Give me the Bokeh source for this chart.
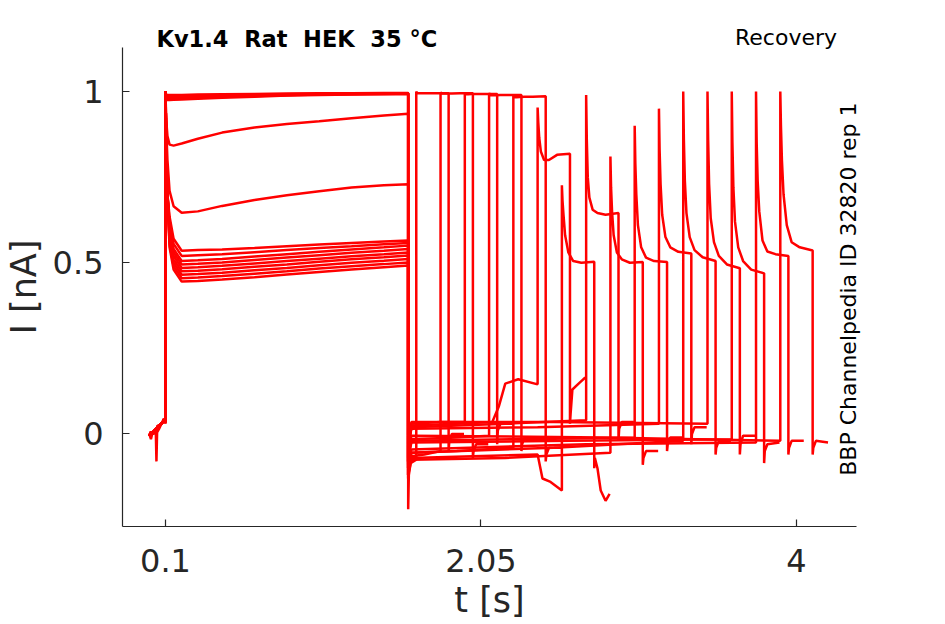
import math
from bokeh.plotting import figure
from bokeh.models import Range1d, FixedTicker, Label, ColumnDataSource
from bokeh.embed import file_html
from bokeh.resources import INLINE

# ---------------- data ----------------
# pre-pulse baseline (t in s, I in nA)
PRE_T = [0.0, 0.01, 0.02, 0.03, 0.04, 0.044, 0.048, 0.06, 0.075, 0.09, 0.1]
PRE_I_SPIKE = [0.0, -0.015, 0.005, 0.0, 0.01, -0.08, 0.005, 0.015, 0.03, 0.045, 0.03]
PRE_I_FLAT = [-0.005, 0.005, 0.0, 0.01, 0.015, 0.01, 0.02, 0.025, 0.03, 0.04, 0.035]

# first pulse (0.1 - 1.6 s)
P1_T = [0.1, 0.104, 0.112, 0.125, 0.15, 0.2, 0.3, 0.45, 0.65, 0.85, 1.05, 1.25, 1.45, 1.6]
P1_I = [
    [1.0, 0.99, 0.99, 0.99, 0.99, 0.99, 0.991, 0.992, 0.993, 0.994, 0.995, 0.995, 0.996, 0.996],
    [1.0, 0.985, 0.982, 0.982, 0.982, 0.983, 0.984, 0.986, 0.988, 0.99, 0.992, 0.993, 0.994, 0.995],
    [1.0, 0.98, 0.977, 0.977, 0.978, 0.979, 0.981, 0.984, 0.987, 0.989, 0.991, 0.992, 0.993, 0.994],
    [1.0, 0.988, 0.986, 0.986, 0.986, 0.987, 0.988, 0.99, 0.991, 0.992, 0.993, 0.994, 0.995, 0.995],
    [1.0, 0.978, 0.975, 0.975, 0.976, 0.977, 0.979, 0.982, 0.985, 0.988, 0.99, 0.991, 0.992, 0.993],
    [1.0, 0.92, 0.87, 0.845, 0.842, 0.848, 0.862, 0.88, 0.895, 0.905, 0.913, 0.922, 0.93, 0.935],
    [1.0, 0.86, 0.70, 0.585, 0.52, 0.485, 0.487, 0.491, 0.498, 0.505, 0.512, 0.519, 0.525, 0.53],
    [1.0, 0.90, 0.80, 0.71, 0.665, 0.646, 0.65, 0.666, 0.683, 0.697, 0.709, 0.72, 0.726, 0.729],
    [1.0, 0.86, 0.70, 0.575, 0.51, 0.475, 0.477, 0.481, 0.488, 0.495, 0.503, 0.51, 0.516, 0.521],
    [1.0, 0.86, 0.70, 0.565, 0.50, 0.465, 0.467, 0.471, 0.478, 0.485, 0.493, 0.50, 0.506, 0.511],
    [1.0, 0.86, 0.70, 0.62, 0.555, 0.52, 0.522, 0.525, 0.531, 0.537, 0.543, 0.548, 0.554, 0.558],
    [1.0, 0.86, 0.70, 0.595, 0.53, 0.495, 0.497, 0.501, 0.508, 0.515, 0.522, 0.529, 0.535, 0.54],
    [1.0, 0.86, 0.70, 0.555, 0.49, 0.455, 0.457, 0.461, 0.468, 0.475, 0.483, 0.49, 0.496, 0.501],
    [1.0, 0.86, 0.70, 0.545, 0.48, 0.445, 0.447, 0.451, 0.458, 0.466, 0.473, 0.48, 0.487, 0.492],
    [1.0, 0.86, 0.70, 0.605, 0.54, 0.505, 0.507, 0.511, 0.518, 0.525, 0.532, 0.539, 0.545, 0.55],
    [1.0, 0.86, 0.70, 0.635, 0.570, 0.535, 0.537, 0.539, 0.543, 0.548, 0.553, 0.558, 0.562, 0.565],
]
P1_OFF = 1.6
OFF1_SPIKE = [-0.22, -0.12, -0.08, -0.1, -0.13, -0.08, -0.12, -0.08, -0.13, -0.1, -0.08,
              -0.12, -0.07, -0.1, -0.12, -0.09]

# baseline between the two pulses
GAP_T = [
    [1.604, 1.615, 1.65],
    [1.604, 1.62, 1.7, 1.8],
    [1.604, 1.62, 1.8, 1.95],
    [1.604, 1.62, 1.9, 2.1],
    [1.604, 1.62, 1.9, 2.25],
    [1.604, 1.62, 1.9, 2.12, 2.16, 2.2, 2.28, 2.4],
    [1.604, 1.62, 2.0, 2.40, 2.43, 2.48, 2.55],
    [1.604, 1.62, 2.2, 2.70],
    [1.604, 1.62, 2.2, 2.85],
    [1.604, 1.62, 2.3, 3.0],
    [1.604, 1.62, 2.4, 3.15],
    [1.604, 1.62, 2.5, 3.3],
    [1.604, 1.62, 2.5, 3.45],
    [1.604, 1.62, 2.6, 3.6],
    [1.604, 1.62, 2.7, 3.75],
    [1.604, 1.62, 2.8, 3.9],
]
GAP_I = [
    [-0.12, -0.085, -0.075],
    [-0.1, -0.065, -0.06, -0.05],
    [-0.02, 0.03, 0.035, 0.035],
    [-0.05, -0.015, -0.01, -0.005],
    [-0.09, -0.055, -0.05, -0.04],
    [-0.03, 0.025, 0.03, 0.035, 0.08, 0.147, 0.16, 0.145],
    [-0.1, -0.07, -0.065, -0.06, -0.13, -0.14, -0.165],
    [-0.03, 0.02, 0.03, 0.04],
    [-0.11, -0.075, -0.07, -0.055],
    [-0.06, -0.02, -0.015, -0.01],
    [-0.02, 0.015, 0.02, 0.03],
    [-0.09, -0.055, -0.04, -0.02],
    [-0.01, 0.035, 0.035, 0.03],
    [-0.06, -0.025, -0.02, -0.015],
    [-0.08, -0.045, -0.03, -0.025],
    [-0.04, -0.005, -0.01, -0.02],
]

# second pulse
P2_ON = [1.65, 1.80, 1.95, 2.10, 2.25, 2.40, 2.55, 2.70, 2.85, 3.00, 3.15, 3.30, 3.45, 3.60, 3.75, 3.90]
P2_OFF = [1.85, 2.00, 2.15, 2.30, 2.45, 2.60, 2.75, 2.90, 3.05, 3.20, 3.35, 3.50, 3.65, 3.80, 3.95, 4.10]
P2_DT = [0.0, 0.004, 0.01, 0.02, 0.04, 0.07, 0.12, 0.2]
P2_I = [
    [1.0, 0.996, 0.995, 0.995, 0.995, 0.995, 0.995, 0.995],
    [0.998, 0.995, 0.994, 0.994, 0.994, 0.994, 0.995, 0.995],
    [0.997, 0.993, 0.992, 0.992, 0.993, 0.993, 0.993, 0.993],
    [0.996, 0.99, 0.989, 0.989, 0.989, 0.99, 0.99, 0.99],
    [0.99, 0.985, 0.983, 0.983, 0.984, 0.985, 0.985, 0.986],
    [0.953, 0.91, 0.865, 0.825, 0.80, 0.80, 0.815, 0.818],
    [0.726, 0.68, 0.64, 0.58, 0.53, 0.505, 0.50, 0.503],
    [0.99, 0.86, 0.75, 0.69, 0.655, 0.645, 0.64, 0.645],
    [0.81, 0.72, 0.65, 0.58, 0.53, 0.51, 0.50, 0.502],
    [0.90, 0.79, 0.70, 0.61, 0.545, 0.515, 0.505, 0.502],
    [0.95, 0.83, 0.73, 0.64, 0.575, 0.545, 0.532, 0.527],
    [1.0, 0.86, 0.74, 0.645, 0.575, 0.537, 0.516, 0.505],
    [1.0, 0.86, 0.73, 0.63, 0.56, 0.52, 0.495, 0.484],
    [1.0, 0.85, 0.72, 0.62, 0.545, 0.505, 0.48, 0.469],
    [1.0, 0.85, 0.74, 0.65, 0.565, 0.533, 0.525, 0.52],
    [1.0, 0.90, 0.80, 0.70, 0.61, 0.56, 0.545, 0.536],
]
OFF2_SPIKE = [-0.05, -0.07, -0.03, -0.05, -0.08, 0.03, -0.1, -0.02, -0.09, -0.05, -0.03,
              -0.06, -0.06, -0.085, -0.06, -0.06]

# baseline after the second pulse
TAIL_T = [
    [1.854, 1.87, 1.945],
    [2.004, 2.02, 2.095],
    [2.154, 2.17, 2.245],
    [2.304, 2.32, 2.395],
    [2.454, 2.47, 2.545],
    [2.604, 2.615, 2.66, 2.695],
    [2.754, 2.77, 2.79, 2.82, 2.845],
    [2.904, 2.92, 2.995],
    [3.054, 3.07, 3.145],
    [3.204, 3.22, 3.295],
    [3.354, 3.37, 3.445],
    [3.504, 3.52, 3.595],
    [3.654, 3.67, 3.745],
    [3.804, 3.82, 3.895],
    [3.954, 3.97, 4.045],
    [4.104, 4.12, 4.195],
]
TAIL_I = [
    [-0.02, 0.0, 0.0],
    [-0.05, -0.03, -0.03],
    [0.01, 0.03, 0.03],
    [-0.03, -0.01, -0.01],
    [-0.06, -0.04, -0.04],
    [0.06, 0.13, 0.15, 0.165],
    [-0.07, -0.1, -0.165, -0.195, -0.175],
    [0.015, 0.035, 0.035],
    [-0.07, -0.05, -0.05],
    [-0.03, -0.01, -0.01],
    [0.0, 0.02, 0.02],
    [-0.04, -0.02, -0.02],
    [-0.03, -0.005, -0.005],
    [-0.05, -0.03, -0.025],
    [-0.04, -0.02, -0.02],
    [-0.04, -0.02, -0.025],
]

X_TICKS = [0.1, 2.05, 4]
X_TICK_LABELS = ["0.1", "2.05", "4"]
Y_TICKS = [0, 0.5, 1]
Y_TICK_LABELS = ["0", "0.5", "1"]

# doubled gaps kept visible with a no-break space after the ordinary one
TITLE_LEFT = "Kv1.4 \u00a0Rat \u00a0HEK \u00a035 °C"
TITLE_RIGHT = "Recovery"
SIDE_TEXT = "BBP Channelpedia ID 32820 rep 1"

# ---------------- assemble traces ----------------
xs, ys = [], []
for k in range(16):
    t = list(PRE_T)
    i = list(PRE_I_SPIKE if k == 0 else PRE_I_FLAT)
    t += P1_T
    i += P1_I[k]
    t += [P1_OFF]
    i += [OFF1_SPIKE[k]]
    t += GAP_T[k]
    i += GAP_I[k]
    t += [P2_ON[k] + d for d in P2_DT]
    i += P2_I[k]
    t += [P2_OFF[k]]
    i += [OFF2_SPIKE[k]]
    t += TAIL_T[k]
    i += TAIL_I[k]
    xs.append(t)
    ys.append(i)

src = ColumnDataSource(data=dict(xs=xs, ys=ys))

INK = "#262626"
p = figure(
    frame_width=734, frame_height=479,
    min_border_left=114, min_border_right=81, min_border_top=47, min_border_bottom=86,
    x_range=Range1d(-0.1658, 4.371), y_range=Range1d(-0.2701, 1.1285),
    output_backend="svg", toolbar_location=None,
    background_fill_color="white", border_fill_color="white",
)
p.outline_line_color = None
p.grid.visible = False

p.multi_line("xs", "ys", source=src, line_color="#ff0000", line_width=2.5)

p.xaxis.ticker = FixedTicker(ticks=X_TICKS)
p.xaxis.major_label_overrides = {v: s for v, s in zip(X_TICKS, X_TICK_LABELS)}
p.yaxis.ticker = FixedTicker(ticks=Y_TICKS)
p.yaxis.major_label_overrides = {v: s for v, s in zip(Y_TICKS, Y_TICK_LABELS)}
p.xaxis.axis_label = "t [s]"
p.yaxis.axis_label = "I [nA]"
for ax in (p.xaxis, p.yaxis):
    ax.axis_line_color = INK
    ax.axis_line_width = 1.2
    ax.major_tick_line_color = INK
    ax.major_tick_line_width = 1.2
    ax.major_tick_in = 7
    ax.major_tick_out = 0
    ax.minor_tick_line_color = None
    ax.major_label_text_font = "DejaVu Sans"
    ax.major_label_text_font_size = "32px"
    ax.major_label_text_color = INK
    ax.axis_label_text_font = "DejaVu Sans"
    ax.axis_label_text_font_size = "35px"
    ax.axis_label_text_font_style = "normal"
    ax.axis_label_text_color = INK
p.yaxis.major_label_standoff = 19
p.yaxis.axis_label_standoff = 6
p.xaxis.major_label_standoff = 22
p.xaxis.axis_label_standoff = 5

# text annotations live in side panels (one per panel slot) so they are not
# clipped to the frame; their positions are data coordinates of the frame
p.add_layout(Label(x=0.0444, y=1.1524, text=TITLE_LEFT, text_font="DejaVu Sans",
                   text_font_style="bold", text_font_size="22.5px", text_color="black",
                   text_align="left", text_baseline="alphabetic"), "above")
p.add_layout(Label(x=3.62, y=1.1577, text=TITLE_RIGHT, text_font="DejaVu Sans",
                   text_font_size="22px", text_color="black",
                   text_align="left", text_baseline="alphabetic"), "below")
p.add_layout(Label(x=4.323, y=-0.122, text=SIDE_TEXT, text_font="DejaVu Sans",
                   text_font_size="22px", text_color="black", angle=math.pi / 2,
                   text_align="left", text_baseline="alphabetic"), "right")

open("out.html", "w").write(file_html(p, INLINE))
